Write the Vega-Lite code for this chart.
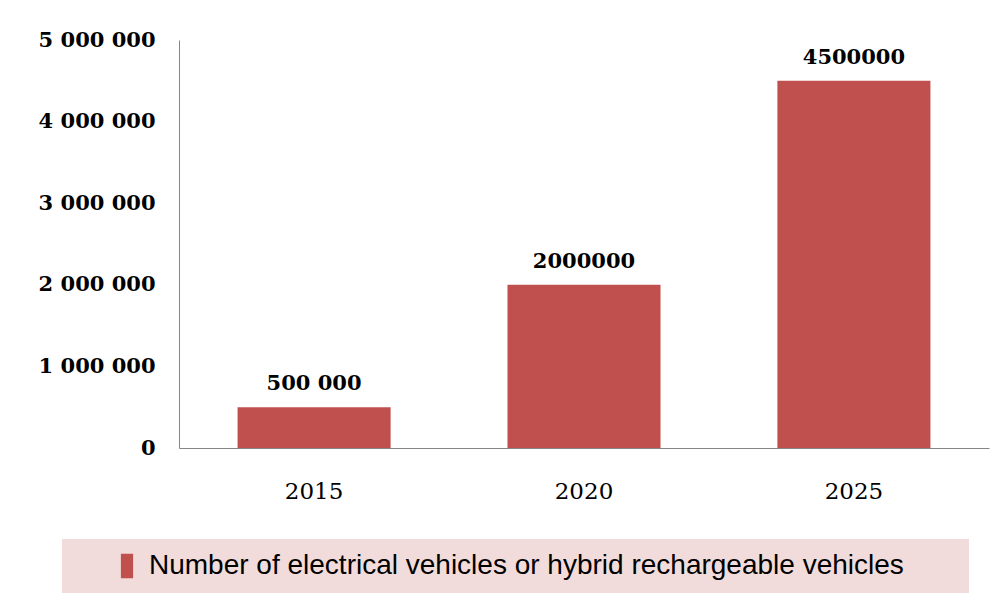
{
  "$schema": "https://vega.github.io/schema/vega-lite/v6.json",
  "width": 810,
  "height": 408,
  "autosize": "none",
  "padding": {"left": 179, "top": 40, "right": 9, "bottom": 158},
  "background": "white",
  "config": {"view": {"stroke": null}},
  "data": {
    "values": [
      {"year": "2015", "vehicles": 500000, "label": "500 000", "series": "Number of electrical vehicles or hybrid rechargeable vehicles"},
      {"year": "2020", "vehicles": 2000000, "label": "2000000", "series": "Number of electrical vehicles or hybrid rechargeable vehicles"},
      {"year": "2025", "vehicles": 4500000, "label": "4500000", "series": "Number of electrical vehicles or hybrid rechargeable vehicles"}
    ]
  },
  "encoding": {
    "x": {
      "field": "year",
      "type": "nominal",
      "scale": {"paddingInner": 0.433, "paddingOuter": 0.217},
      "axis": {
        "title": null,
        "labelAngle": 0,
        "ticks": false,
        "domainColor": "#868686",
        "labelFont": "DejaVu Serif",
        "labelFontSize": 23,
        "labelColor": "#000000",
        "labelPadding": 32
      }
    },
    "y": {
      "field": "vehicles",
      "type": "quantitative",
      "scale": {"domain": [0, 5000000]},
      "axis": {
        "title": null,
        "grid": false,
        "ticks": false,
        "domainColor": "#868686",
        "values": [0, 1000000, 2000000, 3000000, 4000000, 5000000],
        "labelExpr": "datum.value == 0 ? '0' : format(datum.value / 1000000, 'd') + ' 000 000'",
        "labelFont": "DejaVu Serif",
        "labelFontWeight": "bold",
        "labelFontSize": 21,
        "labelColor": "#000000",
        "labelPadding": 24
      }
    }
  },
  "layer": [
    {
      "mark": {"type": "bar"},
      "encoding": {
        "color": {
          "field": "series",
          "type": "nominal",
          "scale": {"range": ["#c0504d"]},
          "legend": {
            "title": "\u00a0",
            "titleOrient": "right",
            "titlePadding": 52,
            "orient": "none",
            "legendX": -117,
            "legendY": 499,
            "fillColor": "#f2dcdb",
            "padding": 13,
            "symbolType": "M-1,-2L1,-2L1,2L-1,2Z",
            "symbolSize": 150,
            "symbolStrokeWidth": 0,
            "symbolOffset": 38,
            "labelFont": "Liberation Sans",
            "labelFontSize": 28,
            "labelColor": "#000000",
            "labelLimit": 1000,
            "labelOffset": 8
          }
        }
      }
    },
    {
      "mark": {
        "type": "text",
        "baseline": "alphabetic",
        "dy": -17,
        "font": "DejaVu Serif",
        "fontWeight": "bold",
        "fontSize": 21,
        "color": "#000000"
      },
      "encoding": {"text": {"field": "label"}}
    }
  ]
}
